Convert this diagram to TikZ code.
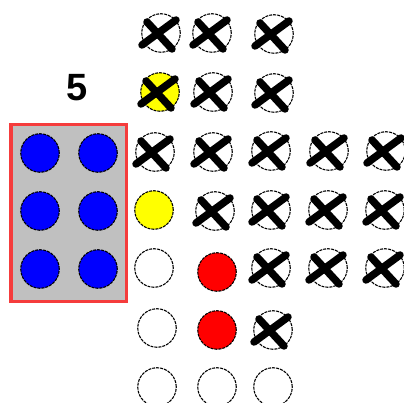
\documentclass[tikz,border=0pt]{standalone}
\usepackage{fontspec}
\newfontfamily\labfont{Liberation Sans}
\definecolor{boxred}{RGB}{245,60,60}
\definecolor{boxgray}{RGB}{192,192,192}
\definecolor{pyellow}{RGB}{255,255,0}
\definecolor{pred}{RGB}{255,0,0}
\definecolor{pblue}{RGB}{0,0,255}
\begin{document}
\begin{tikzpicture}[x=1pt,y=-1pt,
  cell/.style={circle, draw=black, dash pattern=on 3pt off 1pt, line width=1.1pt, minimum size=38.5pt, inner sep=0pt, fill=white},
  xline/.style={line width=7.5pt, line cap=round, black},
  panel/.style={draw=boxred, line width=3.5pt, fill=boxgray, minimum width=115.5pt, minimum height=176.5pt, inner sep=0pt},
  numlabel/.style={font=\labfont\bfseries\fontsize{38}{40}\selectfont, inner sep=0pt}]
\useasboundingbox (0,0) rectangle (404,403);
\fill[white] (0,0) rectangle (404,403);
% panel with blue pegs
\node[panel] (box) at (68.5,213) {};
\foreach \n/\x/\y in {b1/40/153, b2/98/153, b3/40/211, b4/98/211, b5/40/269, b6/98/269}
  \node[cell, fill=pblue] (\n) at (\x,\y) {};
\node[numlabel] (lbl) at (77,88) {5};
% board cells
\foreach \n/\x/\y/\c in {
  a11/161/33/white, a12/212/33/white, a13/274/34/white,
  a21/160/92/pyellow, a22/213/92/white, a23/274/93/white,
  a31/155/152/white, a32/213/152/white, a33/271/151/white, a34/329/151/white, a35/386/151/white,
  a41/154/210/pyellow, a42/215/211/white, a43/271/210/white, a44/328/210/white, a45/385/210/white,
  a51/154/268/white, a52/217/272/pred, a53/271/268/white, a54/328/268/white, a55/385/268/white,
  a61/157/328/white, a62/217/330/pred, a63/273/330/white,
  a71/157/387/white, a72/217/387/white, a73/273/387/white}
  \node[cell, fill=\c] (\n) at (\x,\y) {};
% crosses
\foreach \n in {a11,a12,a13,a21,a22,a23,a31,a32,a33,a34,a35,a42,a43,a44,a45,a53,a54,a55,a63}{
  \draw[xline] ([shift={(-19,12)}]\n.center) -- ([shift={(15,-13)}]\n.center);
  \draw[xline] ([shift={(-14,-11)}]\n.center) -- ([shift={(11,16)}]\n.center);
}
\end{tikzpicture}
\end{document}
